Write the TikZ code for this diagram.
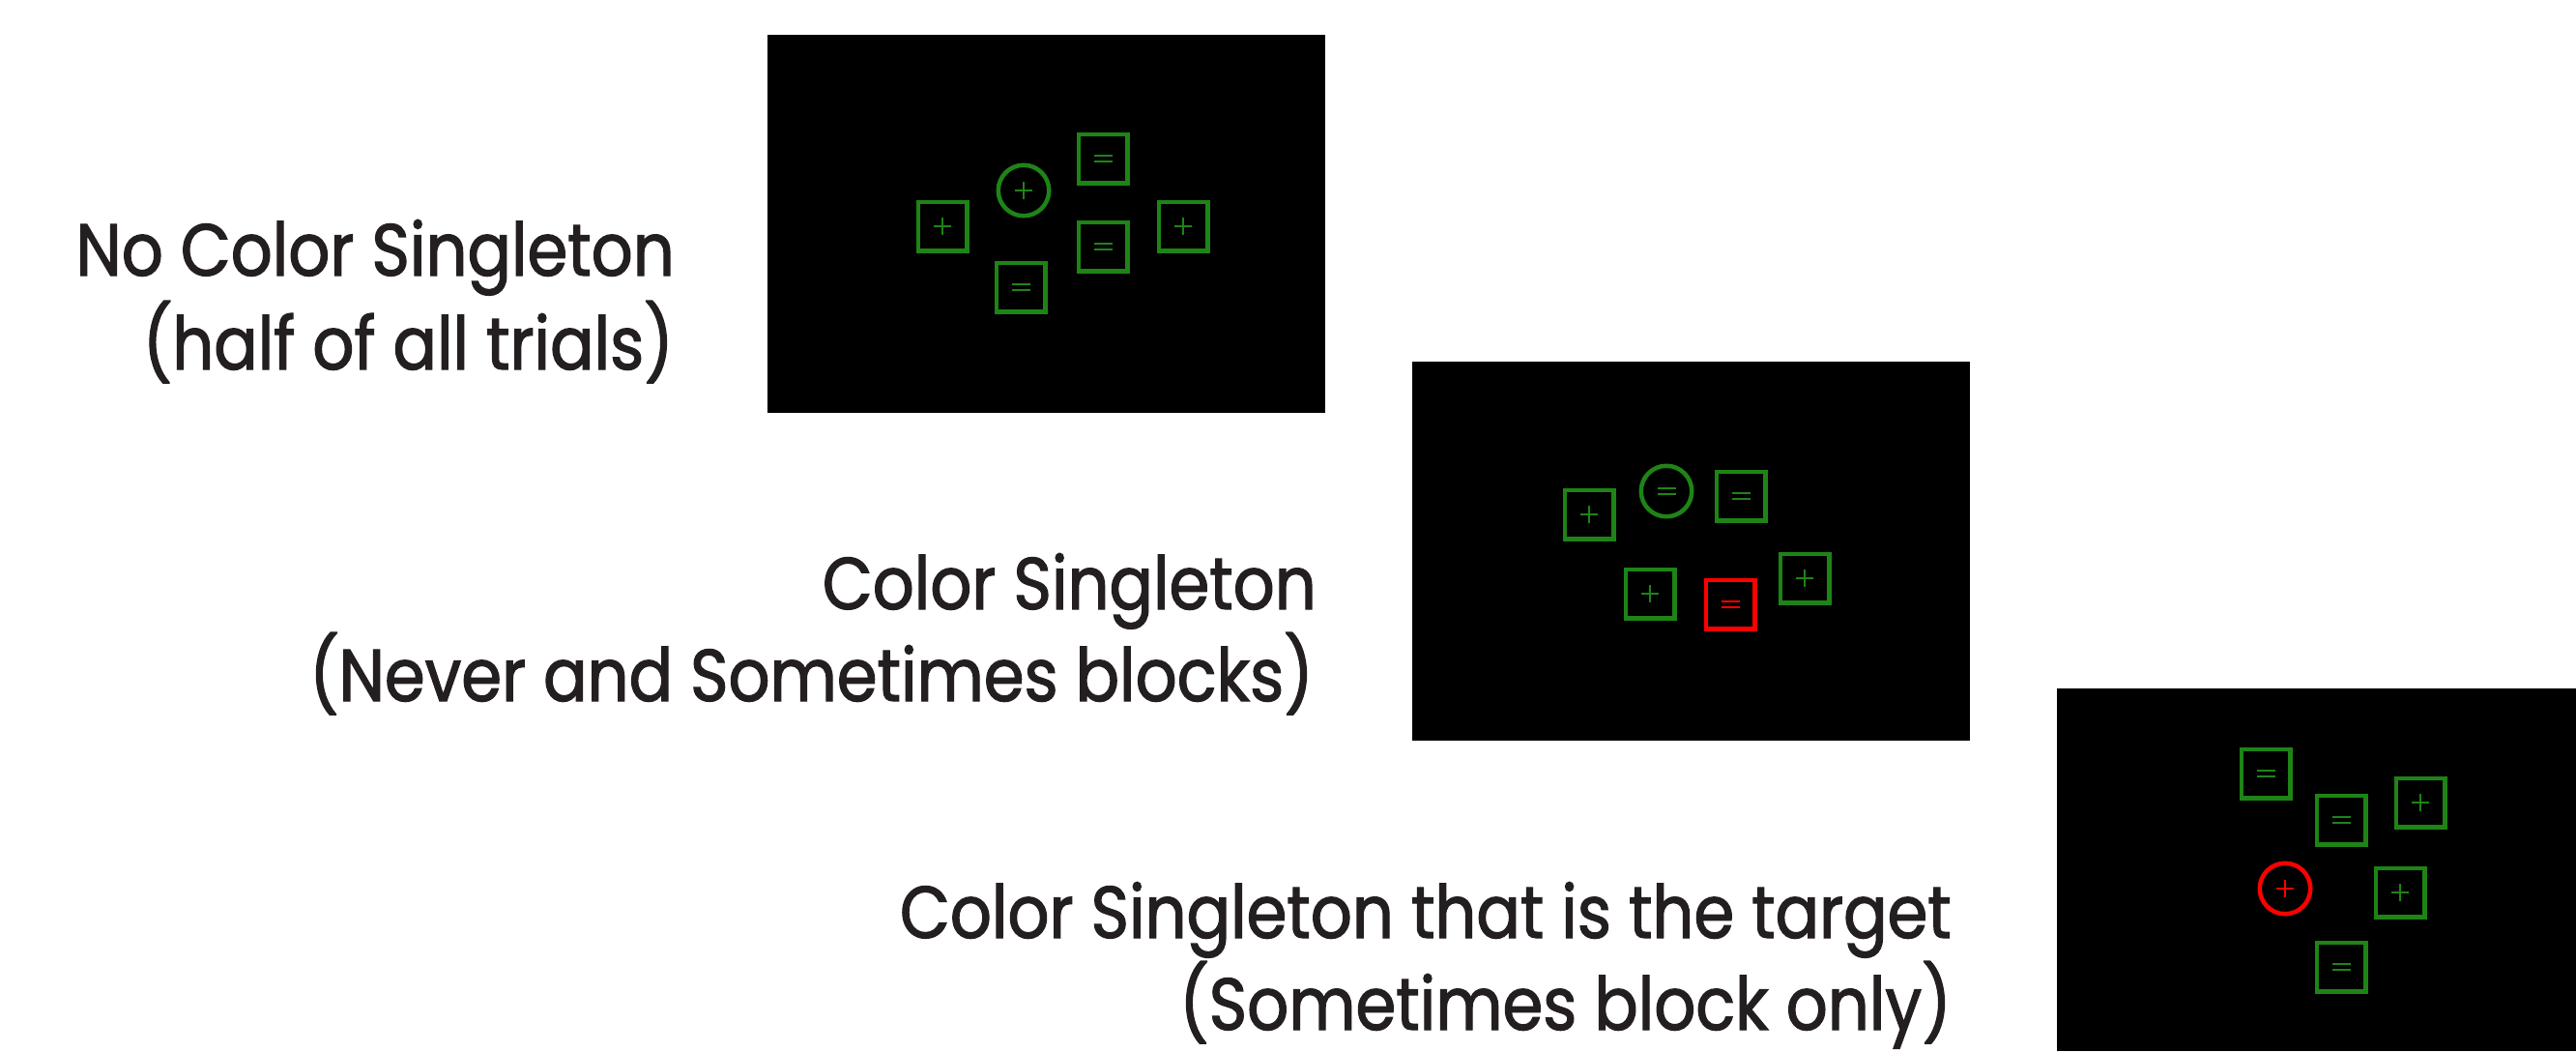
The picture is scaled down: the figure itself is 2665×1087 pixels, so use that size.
\documentclass[tikz,border=0pt]{standalone}
\usepackage{fontspec}
\setmainfont{Poppins}[FakeStretch=0.885, FakeBold=1.6]
\definecolor{gcol}{RGB}{30,132,22}
\definecolor{rcol}{RGB}{255,0,0}
\definecolor{tcol}{RGB}{35,31,32}
\tikzset{
  panel/.style={fill=black, draw=none},
  stim/.style={draw=#1, line width=4.5pt, inner sep=0pt},
  sq/.style={stim=#1, rectangle, minimum size=50.5pt},
  ring/.style={stim=#1, circle, minimum size=52.5pt},
  plusg/.style={path picture={
    \draw[#1, line width=2.2pt] ([xshift=-9pt]path picture bounding box.center) -- ([xshift=9pt]path picture bounding box.center);
    \draw[#1, line width=2.2pt] ([yshift=-9pt]path picture bounding box.center) -- ([yshift=9pt]path picture bounding box.center);}},
  eqg/.style={path picture={
    \draw[#1, line width=2.2pt] ([xshift=-9.5pt,yshift=3pt]path picture bounding box.center) -- ([xshift=9.5pt,yshift=3pt]path picture bounding box.center);
    \draw[#1, line width=2.2pt] ([xshift=-9.5pt,yshift=-3pt]path picture bounding box.center) -- ([xshift=9.5pt,yshift=-3pt]path picture bounding box.center);}},
  lbl/.style={anchor=base east, inner sep=0pt, text=tcol, font=\fontsize{76}{90}\selectfont}
}
\begin{document}
\begin{tikzpicture}[x=1pt,y=-1pt]
\useasboundingbox (0,0) rectangle (2665,1087);
% panels
\fill[panel] (794,36) rectangle (1371,427);
\fill[panel] (1461,374) rectangle (2038,766);
\fill[panel] (2128,712) rectangle (2665,1087);
% panel 1
\node[ring=gcol, plusg=gcol] (a1) at (1059,197) {};
\node[sq=gcol, eqg=gcol] (a2) at (1141,164) {};
\node[sq=gcol, plusg=gcol] (a3) at (975,234) {};
\node[sq=gcol, eqg=gcol] (a4) at (1141,255) {};
\node[sq=gcol, plusg=gcol] (a5) at (1224,234) {};
\node[sq=gcol, eqg=gcol] (a6) at (1056,297) {};
% panel 2
\node[sq=gcol, plusg=gcol] (b1) at (1644,532) {};
\node[ring=gcol, eqg=gcol] (b2) at (1724,508) {};
\node[sq=gcol, eqg=gcol] (b3) at (1801,513) {};
\node[sq=gcol, plusg=gcol] (b4) at (1707,614) {};
\node[sq=rcol, eqg=rcol] (b5) at (1790,625) {};
\node[sq=gcol, plusg=gcol] (b6) at (1867,598) {};
% panel 3
\node[sq=gcol, eqg=gcol] (c1) at (2344,800) {};
\node[sq=gcol, eqg=gcol] (c2) at (2422,848) {};
\node[sq=gcol, plusg=gcol] (c3) at (2504,830) {};
\node[ring=rcol, plusg=rcol] (c4) at (2364,919) {};
\node[sq=gcol, plusg=gcol] (c5) at (2483,923) {};
\node[sq=gcol, eqg=gcol] (c6) at (2422,1000) {};
% labels
\node[lbl] (t1a) at (698,285) {No Color Singleton};
\node[lbl] (t1b) at (697,382) {(half of all trials)};
\node[lbl] (t2a) at (1362,630) {Color Singleton};
\node[lbl] (t2b) at (1359,725) {(Never and Sometimes blocks)};
\node[lbl] (t3a) at (2019,970) {Color Singleton that is the target};
\node[lbl] (t3b) at (2019,1065) {(Sometimes block only)};
\end{tikzpicture}
\end{document}
